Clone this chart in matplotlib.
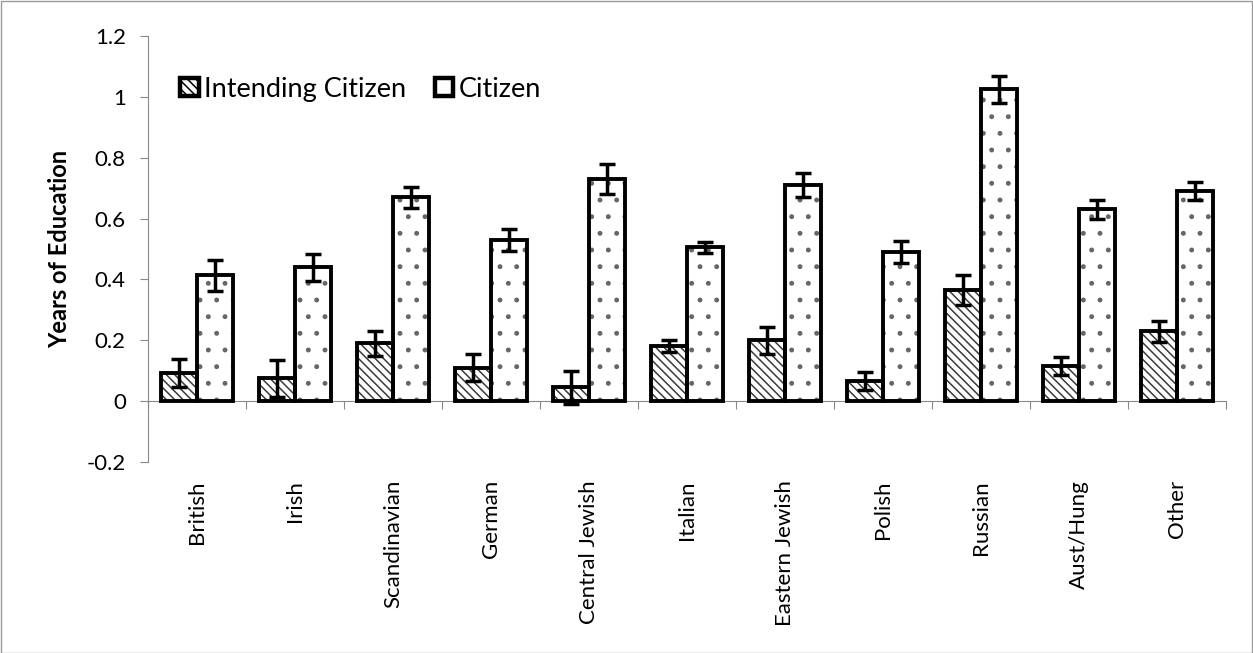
import matplotlib
matplotlib.use("Agg")
import matplotlib.pyplot as plt
import numpy as np
from matplotlib.patches import Rectangle

plt.rcParams['font.family'] = ['Lato', 'DejaVu Sans']
plt.rcParams['hatch.linewidth'] = 1.1

categories = ["British", "Irish", "Scandinavian", "German", "Central Jewish",
              "Italian", "Eastern Jewish", "Polish", "Russian", "Aust/Hung", "Other"]
intending = [0.092, 0.075, 0.19, 0.11, 0.045, 0.18, 0.20, 0.065, 0.365, 0.115, 0.23]
intending_err = [0.045, 0.060, 0.040, 0.045, 0.055, 0.020, 0.045, 0.030, 0.048, 0.030, 0.035]
citizen = [0.413, 0.44, 0.67, 0.53, 0.73, 0.505, 0.71, 0.49, 1.025, 0.63, 0.69]
citizen_err = [0.050, 0.045, 0.035, 0.035, 0.050, 0.018, 0.040, 0.035, 0.045, 0.030, 0.030]
yticks = [-0.2, 0, 0.2, 0.4, 0.6, 0.8, 1, 1.2]
ytick_labels = ["-0.2", "0", "0.2", "0.4", "0.6", "0.8", "1", "1.2"]

W, H = 1253, 653
fig = plt.figure(figsize=(W / 100, H / 100), dpi=100)
ax = fig.add_axes([148 / W, 1 - 462 / H, (1226 - 148) / W, (462 - 36) / H])

x = np.arange(len(categories))
bw = 0.365
grey = "#898989"
hatch_ic = "\\\\\\\\"
hatch_c = "."

# fill layer: white face with pattern in a softer tone
ax.bar(x - bw / 2, intending, bw, facecolor="white", edgecolor="#3a3a3a",
       linewidth=0, hatch=hatch_ic, zorder=3)
ax.bar(x + bw / 2, citizen, bw, facecolor="white", edgecolor="#666666",
       linewidth=0, hatch=hatch_c, zorder=3)

# outline layer with error bars
err_kw = dict(ecolor="black", elinewidth=2.5, capsize=5.5, capthick=2.5, zorder=5)
ax.bar(x - bw / 2, intending, bw, yerr=intending_err, fill=False,
       edgecolor="black", linewidth=2.8, error_kw=err_kw, zorder=4)
ax.bar(x + bw / 2, citizen, bw, yerr=citizen_err, fill=False,
       edgecolor="black", linewidth=2.8, error_kw=err_kw, zorder=4)

ax.set_xlim(-0.5, len(categories) - 0.5)
ax.set_ylim(-0.2, 1.2)
ax.set_yticks(yticks)
ax.set_yticklabels(ytick_labels, fontsize=16)
ax.set_ylabel("Years of Education", fontsize=17, fontweight="bold", labelpad=11)

for s in ("top", "right"):
    ax.spines[s].set_visible(False)
ax.spines["left"].set_color(grey)
ax.spines["bottom"].set_color(grey)
ax.spines["bottom"].set_position(("data", 0))
ax.spines["bottom"].set_zorder(2)
ax.tick_params(axis="y", direction="out", length=6, color=grey, pad=10)

ax.set_xticks(np.arange(len(categories) + 1) - 0.5)
ax.set_xticklabels([])
ax.tick_params(axis="x", direction="out", length=6, color=grey)

sec = ax.secondary_xaxis(0.0)
sec.set_xticks(x)
sec.set_xticklabels(categories, rotation=90, fontsize=16)
sec.tick_params(length=0, pad=13)
sec.spines["bottom"].set_visible(False)

handles = [Rectangle((0, 0), 1, 1, facecolor="white", edgecolor="black",
                     linewidth=3.2, hatch=hatch_ic),
           Rectangle((0, 0), 1, 1, facecolor="white", edgecolor="black",
                     linewidth=3.2)]
ax.legend(handles, ["Intending Citizen", "Citizen"], loc="upper left",
          bbox_to_anchor=(0.02, 0.93), ncol=2, frameon=False, fontsize=19.5,
          handlelength=0.68, handleheight=0.68, handletextpad=0.2,
          columnspacing=1.05, borderaxespad=0)

fig.add_artist(Rectangle((0.5 / W, 0.5 / H), 1 - 1.5 / W, 1 - 1.5 / H,
                         transform=fig.transFigure, fill=False,
                         edgecolor="#9a9a9a", linewidth=1))

fig.savefig("out.png", dpi=100)
